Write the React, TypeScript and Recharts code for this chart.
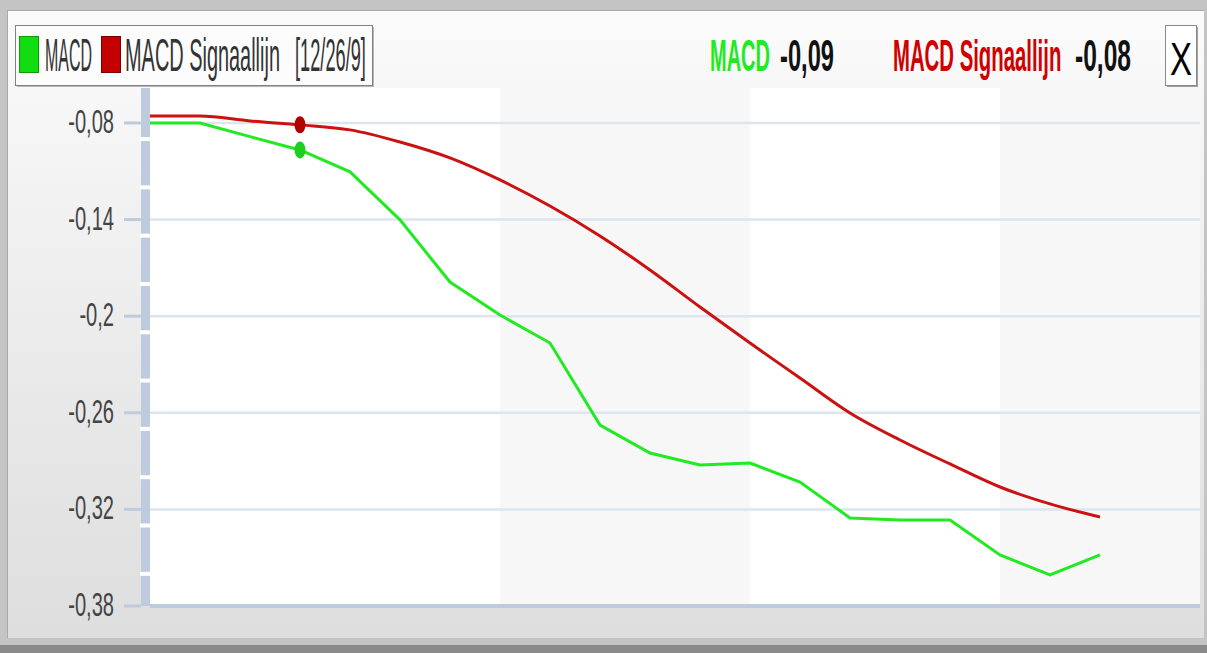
import {
  LineChart,
  Line,
  XAxis,
  YAxis,
  CartesianGrid,
  ReferenceArea,
  ReferenceLine,
} from 'recharts';

// x positions are bar indexes (one point per period)
const periods = [0, 1, 2, 3, 4, 5, 6, 7, 8, 9, 10, 11, 12, 13, 14, 15, 16, 17, 18, 19];
const macd = [
  -0.08, -0.08, -0.0885, -0.0968, -0.1104, -0.1402, -0.1788, -0.1993, -0.2167, -0.2676,
  -0.285, -0.2924, -0.2912, -0.303, -0.3253, -0.3266, -0.3266, -0.3483, -0.3607, -0.3483,
];
const signal = [
  -0.0757, -0.0757, -0.0788, -0.0812, -0.0843, -0.0918, -0.1017, -0.1154, -0.1316, -0.1502,
  -0.1713, -0.1943, -0.2167, -0.2384, -0.2601, -0.2769, -0.2918, -0.3061, -0.3166, -0.3247,
];
const majorTicks = [-0.08, -0.14, -0.2, -0.26, -0.32, -0.38];
const gapTicks = [-0.09, -0.12, -0.15, -0.18, -0.21, -0.24, -0.27, -0.3, -0.33, -0.36];
const bandStarts = [7, 17];
const bandEnds = [12, 21];
const xTicks = [7, 12, 17];
const markerIndex = 3;

const GREEN = '#22ea22';
const RED = '#cc1111';
const AXIS = '#bdcbdc';
const FONT = "'Liberation Sans', Arial, sans-serif";

const data = periods.map((p, i) => ({ p, macd: macd[i], signal: signal[i] }));

const fmt = (v: number) => String(v).replace('.', ',');

function YTick(props: any) {
  const { y, payload } = props;
  const v = payload.value;
  if (!majorTicks.includes(v)) {
    // white notch in the thick axis bar
    return <rect x={140} y={y - 2} width={12} height={4} fill="#ffffff" />;
  }
  return (
    <g>
      <line x1={124} x2={141} y1={y} y2={y} stroke={AXIS} strokeWidth={3} />
      <text
        transform={`translate(114,${y + 10}) scale(0.6,1)`}
        textAnchor="end"
        fontFamily={FONT}
        fontSize={33.5}
        fill="#444"
      >
        {fmt(v)}
      </text>
    </g>
  );
}

function Marker(color: string) {
  return (props: any) => {
    const { cx, cy, index } = props;
    if (index !== markerIndex) return <g key={`d-${index}`} />;
    return <ellipse key={`d-${index}`} cx={cx} cy={cy} rx={5.5} ry={8.5} fill={color} />;
  };
}

// narrow, tall label: x = left edge, y = baseline, sx = horizontal squeeze
function Label(p: { x: number; y: number; sx: number; size: number; color: string; bold?: boolean; children: string }) {
  return (
    <text
      transform={`translate(${p.x},${p.y}) scale(${p.sx},1)`}
      fontFamily={FONT}
      fontSize={p.size}
      fontWeight={p.bold ? 'bold' : 'normal'}
      fill={p.color}
    >
      {p.children}
    </text>
  );
}

function Header() {
  return (
    <svg width={1207} height={100} style={{ position: 'absolute', left: 0, top: 0 }}>
      <rect x={17} y={27} width={357} height={60} fill="#b8b8b8" />
      <rect x={15.5} y={25.5} width={357} height={60} fill="#fcfcfc" stroke="#808080" />
      <rect x={19.5} y={36.5} width={19} height={36} fill="#11dd11" stroke="#0a9a0a" />
      <Label x={45} y={71} sx={0.34} size={47} color="#333">MACD</Label>
      <rect x={101.5} y={36.5} width={19} height={36} fill="#c40000" stroke="#7a0000" />
      <Label x={125} y={71} sx={0.424} size={47} color="#333">MACD Signaallijn</Label>
      <Label x={295} y={71} sx={0.388} size={47} color="#333">[12/26/9]</Label>

      <Label x={710} y={71} sx={0.447} size={44.7} bold color={GREEN}>MACD</Label>
      <Label x={780} y={71} sx={0.53} size={44.7} bold color="#111">-0,09</Label>
      <Label x={893} y={71} sx={0.455} size={44.7} bold color="#d00000">MACD Signaallijn</Label>
      <Label x={1075} y={71} sx={0.55} size={44.7} bold color="#111">-0,08</Label>

      <rect x={1167} y={27} width={31} height={60} fill="#a0a0a0" />
      <rect x={1165.5} y={25.5} width={31} height={60} fill="#ffffff" stroke="#8a8a8a" />
      <Label x={1170} y={75} sx={0.717} size={46} color="#000">X</Label>
    </svg>
  );
}

export default function App() {
  return (
    <div
      style={{
        position: 'absolute',
        left: 0,
        top: 0,
        width: 1207,
        height: 653,
        background: '#c4c4c4',
        overflow: 'hidden',
      }}
    >
      <div
        style={{
          position: 'absolute',
          left: 7,
          top: 10,
          width: 1196,
          height: 627,
          background: 'linear-gradient(#fbfbfb, #e9e9e9 60%, #dedede)',
          borderLeft: '1px solid #a8a8a8',
          borderTop: '1px solid #a8a8a8',
        }}
      />
      <div
        style={{
          position: 'absolute',
          left: 0,
          top: 645,
          width: 1207,
          height: 8,
          background: '#8a8a8a',
        }}
      />
      <div style={{ position: 'absolute', left: 0, top: 0 }}>
        <LineChart
          width={1207}
          height={653}
          data={data}
          margin={{ top: 88, right: 7, bottom: 27, left: 0 }}
        >
          <CartesianGrid fill="#ffffff" horizontal={false} vertical={false} />
          {bandStarts.map((s, i) => (
            <ReferenceArea
              key={`band-${i}`}
              x1={s}
              x2={bandEnds[i]}
              fill="#f7f7f7"
              fillOpacity={1}
              strokeOpacity={0}
            />
          ))}
          {majorTicks.map((v) => (
            <ReferenceLine key={`g-${v}`} y={v} stroke="#dde5ee" strokeWidth={2.5} />
          ))}
          <XAxis
            dataKey="p"
            type="number"
            domain={[0, 21]}
            ticks={xTicks}
            tick={false}
            tickLine={{ stroke: AXIS, strokeWidth: 1.5 }}
            tickSize={16}
            axisLine={{ stroke: AXIS, strokeWidth: 4 }}
            height={20}
          />
          <YAxis
            type="number"
            domain={[-0.38, -0.0583]}
            ticks={[...majorTicks, ...gapTicks]}
            interval={0}
            width={150}
            tick={YTick}
            tickLine={false}
            axisLine={{ stroke: AXIS, strokeWidth: 9, transform: 'translate(-4.5 0)' }}
            allowDataOverflow
          />
          <Line
            type="monotone"
            dataKey="signal"
            stroke={RED}
            strokeWidth={3}
            dot={Marker('#b00000')}
            activeDot={false}
            isAnimationActive={false}
          />
          <Line
            type="linear"
            dataKey="macd"
            stroke={GREEN}
            strokeWidth={3}
            dot={Marker('#1fcf1f')}
            activeDot={false}
            isAnimationActive={false}
          />
        </LineChart>
      </div>
      <Header />
    </div>
  );
}
